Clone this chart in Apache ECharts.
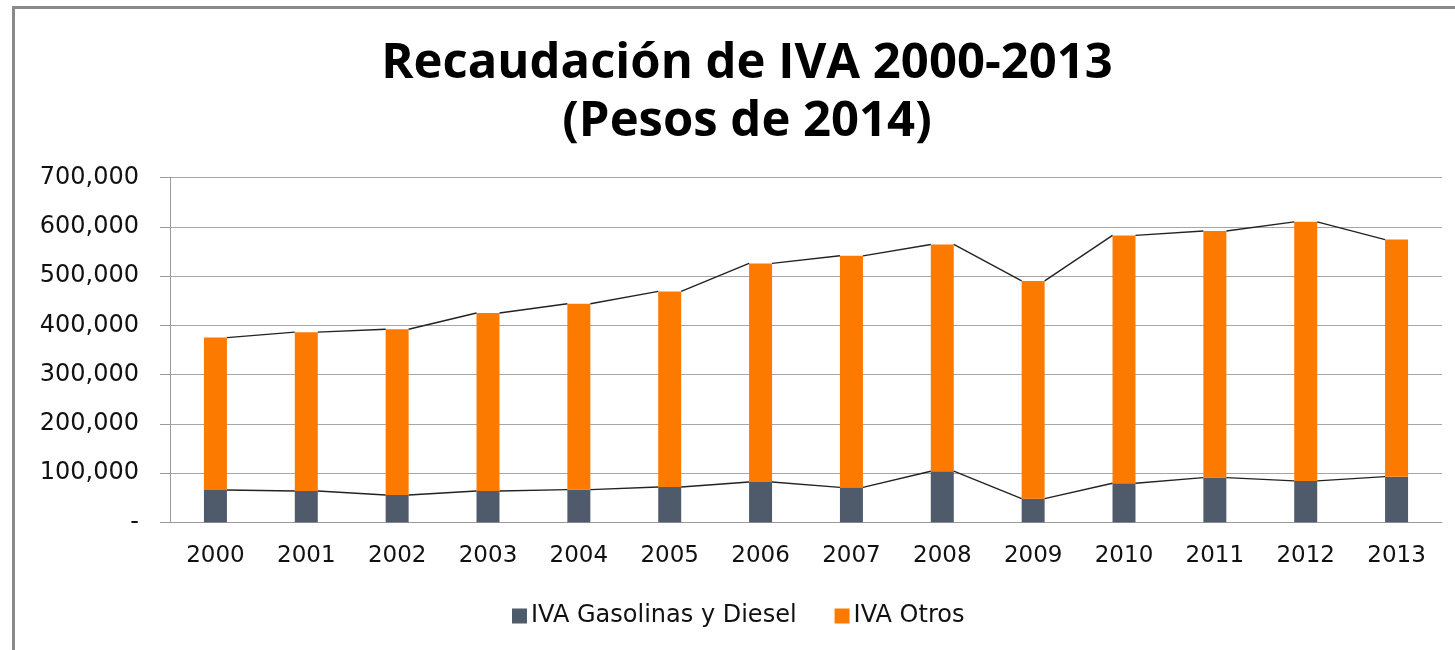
<!DOCTYPE html>
<html>
<head>
<meta charset="utf-8">
<script src="https://cdn.jsdelivr.net/npm/echarts@6/dist/echarts.min.js"></script>
<style>
html,body{margin:0;padding:0;background:#fff;}
#chart{width:1455px;height:650px;}
</style>
</head>
<body>
<div id="chart"></div>
<script>
const years = ['2000','2001','2002','2003','2004','2005','2006','2007','2008','2009','2010','2011','2012','2013'];
const gasolinasDiesel = [65700, 63600, 55500, 63600, 66300, 71700, 81900, 71000, 103700, 48000, 79300, 90700, 84000, 92700];
const otros = [309300, 322400, 336500, 361400, 377400, 397000, 443700, 470000, 460300, 442000, 503200, 500800, 526000, 481300];
const seriesNames = ['IVA Gasolinas y Diesel', 'IVA Otros'];
const titleLines = ['Recaudación de IVA 2000-2013', '(Pesos de 2014)'];

const totals = gasolinasDiesel.map((g, i) => g + otros[i]);
const BAR_FRAC = 0.253;
const TITLE_FONT = '"Open Sans", "DejaVu Sans", sans-serif';
const FONT = '"DejaVu Sans", sans-serif';

function connector(vals) {
  return {
    type: 'custom',
    silent: true,
    z: 5,
    renderItem: function (params, api) {
      const i = params.dataIndex;
      if (i >= vals.length - 1) return null;
      const p0 = api.coord([i, vals[i]]);
      const p1 = api.coord([i + 1, vals[i + 1]]);
      const half = api.size([1, 0])[0] * BAR_FRAC / 2;
      return {
        type: 'line',
        shape: { x1: p0[0] + half, y1: p0[1], x2: p1[0] - half, y2: p1[1] },
        style: { stroke: '#222222', lineWidth: 1.4 }
      };
    },
    data: vals.map((v, i) => [i, v])
  };
}

const chart = echarts.init(document.getElementById('chart'), null, { renderer: 'canvas' });
chart.setOption({
  backgroundColor: '#ffffff',
  animation: false,
  title: {
    text: titleLines.join('\n'),
    left: 742,
    textAlign: 'center',
    top: 30,
    textStyle: { fontFamily: TITLE_FONT, fontWeight: 'bold', fontSize: 49, lineHeight: 58, color: '#000' }
  },
  graphic: [{
    type: 'rect',
    shape: { x: 13.5, y: 7.5, width: 1600, height: 800 },
    style: { stroke: '#8a8a8a', lineWidth: 3, fill: null },
    silent: true
  }],
  legend: {
    data: seriesNames,
    top: 599,
    left: 507,
    icon: 'rect',
    itemWidth: 15,
    itemHeight: 15,
    itemGap: 38,
    textStyle: { fontFamily: FONT, fontSize: 24, color: '#111', padding: [0, 0, 0, -1] }
  },
  grid: { left: 170, right: 13, top: 177.5, bottom: 127.7, containLabel: false },
  xAxis: {
    type: 'category',
    data: years,
    axisLine: { lineStyle: { color: '#9a9a9a', width: 1 } },
    axisTick: { show: false },
    axisLabel: { fontFamily: FONT, fontSize: 23, color: '#111', margin: 22 }
  },
  yAxis: {
    type: 'value',
    min: 0,
    max: 700000,
    interval: 100000,
    axisLine: { show: true, lineStyle: { color: '#9a9a9a', width: 1 } },
    axisTick: { show: true, length: 10, lineStyle: { color: '#9a9a9a' } },
    splitLine: { lineStyle: { color: '#a6a6a6', width: 1 } },
    axisLabel: {
      fontFamily: FONT, fontSize: 24, color: '#111', margin: 31,
      formatter: v => v === 0 ? '-' : v.toLocaleString('en-US')
    }
  },
  series: [
    {
      name: seriesNames[0], type: 'bar', stack: 'iva', barWidth: (BAR_FRAC * 100) + '%',
      itemStyle: { color: '#4f5b6b' }, data: gasolinasDiesel, z: 2
    },
    {
      name: seriesNames[1], type: 'bar', stack: 'iva', barWidth: (BAR_FRAC * 100) + '%',
      itemStyle: { color: '#fd7a00' }, data: otros, z: 2
    },
    connector(gasolinasDiesel),
    connector(totals)
  ]
});
</script>
</body>
</html>
